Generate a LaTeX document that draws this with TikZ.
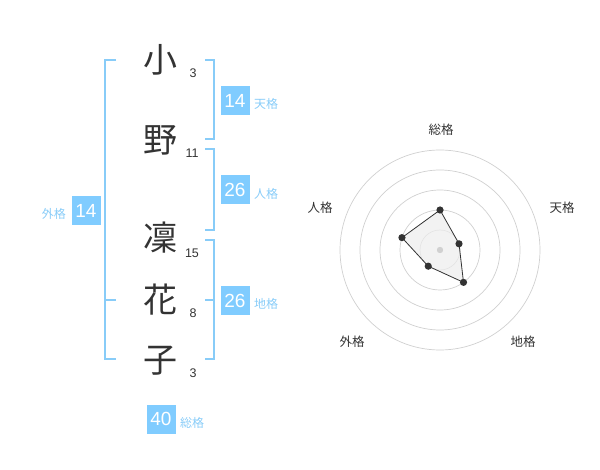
\documentclass[tikz,border=0pt]{standalone}
\usepackage{fontspec}
\setmainfont{Liberation Sans}
\newfontfamily\jfont{Noto Sans CJK JP}
\definecolor{kcol}{HTML}{333333}
\definecolor{bcol}{HTML}{88CCF8}
\definecolor{boxcol}{HTML}{80CCFF}
\definecolor{gcol}{HTML}{D0D0D0}
\tikzset{
  kanji/.style={text=kcol,inner sep=0pt,font=\jfont\fontsize{34}{34}\selectfont},
  strk/.style={text=kcol,inner sep=0pt,font=\fontsize{12.5}{13}\selectfont},
  brk/.style={draw=bcol,line width=2pt},
  kbox/.style={fill=boxcol,text=white,minimum size=29pt,inner sep=0pt,font=\fontsize{19}{19}\selectfont},
  klab/.style={text=bcol,inner sep=0pt,font=\jfont\fontsize{12}{12}\selectfont},
  rlab/.style={text=kcol,inner sep=0pt,font=\jfont\fontsize{12.5}{13}\selectfont},
}
\begin{document}
\begin{tikzpicture}[x=1pt,y=-1pt]
\useasboundingbox (0,0) rectangle (600,470);
% name
\node[kanji] (k1) at (160,60) {小};
\node[kanji] (k2) at (160,140) {野};
\node[kanji] (k3) at (160,238) {凜};
\node[kanji] (k4) at (160,300) {花};
\node[kanji] (k5) at (160,361) {子};
\node[strk] (s1) at (193,73) {3};
\node[strk] (s2) at (192,153) {11};
\node[strk] (s3) at (192,253) {15};
\node[strk] (s4) at (193,313) {8};
\node[strk] (s5) at (193,373) {3};
% brackets
\draw[brk] (116,60)--(105,60)--(105,359)--(116,359);\draw[brk] (105,300)--(116,300);
\draw[brk] (205,60)--(214,60)--(214,139)--(205,139);
\draw[brk] (205,149)--(214,149)--(214,230)--(205,230);
\draw[brk] (205,240)--(214,240)--(214,359)--(205,359);\draw[brk] (205,300)--(214,300);
% values
\node[kbox] (ten) at (235,101) {14};\node[klab,anchor=west] (tenl) at (254,104) {天格};
\node[kbox] (jin) at (235,190) {26};\node[klab,anchor=west] (jinl) at (254,194) {人格};
\node[kbox] (chi) at (235,301) {26};\node[klab,anchor=west] (chil) at (254,304) {地格};
\node[kbox] (gai) at (86,211) {14};\node[klab,anchor=east] (gail) at (66,214) {外格};
\node[kbox] (sou) at (161,419) {40};\node[klab,anchor=west] (soul) at (180,423) {総格};
% chart
\begin{scope}[shift={(440,250)},y=1pt]
\foreach \r in {20,40,60,80,100} \draw[gcol,line width=0.7pt] (0,0) circle (\r);
\coordinate (p1) at (90:40);\coordinate (p2) at (18:20);\coordinate (p3) at (-54:40);
\coordinate (p4) at (-126:20);\coordinate (p5) at (162:40);
\filldraw[fill=black!7,fill opacity=0.7,draw=kcol,line width=0.8pt] (p1)--(p2)--(p3)--(p4)--(p5)--cycle;
\fill[gcol] (0,0) circle (3.2);
\foreach \p in {p1,p2,p3,p4,p5} \fill[kcol] (\p) circle (3.6);
\end{scope}
\node[rlab] (r1) at (441,130) {総格};
\node[rlab] (r2) at (562,208) {天格};
\node[rlab] (r3) at (523,342) {地格};
\node[rlab] (r4) at (352,342) {外格};
\node[rlab] (r5) at (320,208) {人格};
\end{tikzpicture}
\end{document}
